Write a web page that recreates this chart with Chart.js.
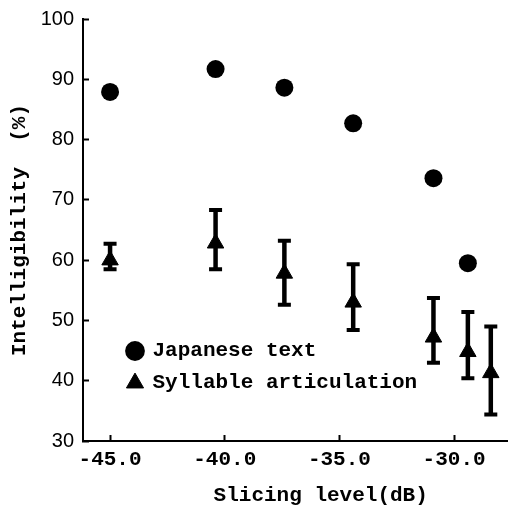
<!DOCTYPE html>
<html><head><meta charset="utf-8">
<script src="https://cdn.jsdelivr.net/npm/chart.js@4"></script>
<style>html,body{margin:0;padding:0;background:#fff;} canvas{display:block;}</style>
</head><body>
<canvas id="c" width="508" height="509"></canvas>
<script>
// ---- data ----
const slicingLevelJapanese = [-45.0, -40.4, -37.4, -34.4, -30.9, -29.4];
const japaneseText = [87.9, 91.7, 88.6, 82.7, 73.6, 59.5];
const slicingLevelSyllable = [-45.0, -40.4, -37.4, -34.4, -30.9, -29.4, -28.4];
const syllableArticulation = [60.0, 62.8, 57.8, 53.0, 47.2, 44.8, 41.3];
const syllableLow = [58.5, 58.5, 52.6, 48.4, 43.0, 40.4, 34.4];
const syllableHigh = [62.7, 68.3, 63.2, 59.3, 53.7, 51.4, 49.0];
const xTickValues = [-45, -40, -35, -30];
const xTickLabels = ['-45.0', '-40.0', '-35.0', '-30.0'];
const yTickValues = [30, 40, 50, 60, 70, 80, 90, 100];
const yTickLabels = ['30', '40', '50', '60', '70', '80', '90', '100'];
const seriesNames = ['Japanese text', 'Syllable articulation'];
const xTitle = '    Slicing level(dB)';
const yTitle = 'Intelligibility  (%)';

const MONO = '"Liberation Mono", "DejaVu Sans Mono", monospace';

const errorBars = {
  id: 'errorBars',
  afterDatasetsDraw(chart) {
    const ctx = chart.ctx, xs = chart.scales.x, ys = chart.scales.y;
    ctx.save();
    ctx.strokeStyle = '#000';
    ctx.lineCap = 'butt';
    slicingLevelSyllable.forEach((xv, i) => {
      const px = xs.getPixelForValue(xv);
      const top = ys.getPixelForValue(syllableHigh[i]);
      const bot = ys.getPixelForValue(syllableLow[i]);
      ctx.lineWidth = 4.5;
      ctx.beginPath(); ctx.moveTo(px, top); ctx.lineTo(px, bot); ctx.stroke();
      ctx.lineWidth = 4;
      ctx.beginPath();
      ctx.moveTo(px - 6.5, top); ctx.lineTo(px + 6.5, top);
      ctx.moveTo(px - 6.5, bot); ctx.lineTo(px + 6.5, bot);
      ctx.stroke();
    });
    ctx.restore();
  }
};

const legendPlacer = {
  id: 'legendPlacer',
  afterLayout(chart) {
    const lg = chart.legend;
    if (!lg) return;
    lg.left = 117; lg.top = 329.5; lg.right = 500; lg.bottom = 440;
    lg.width = lg.right - lg.left; lg.height = lg.bottom - lg.top;
  }
};

new Chart(document.getElementById('c'), {
  type: 'scatter',
  data: {
    datasets: [
      {
        label: seriesNames[0],
        data: slicingLevelJapanese.map((x, i) => ({x, y: japaneseText[i]})),
        pointStyle: 'circle', pointRadius: 9,
        backgroundColor: '#000', borderColor: '#000', borderWidth: 0
      },
      {
        label: seriesNames[1],
        data: slicingLevelSyllable.map((x, i) => ({x, y: syllableArticulation[i]})),
        pointStyle: 'triangle', pointRadius: 9.5,
        backgroundColor: '#000', borderColor: '#000', borderWidth: 1
      }
    ]
  },
  options: {
    responsive: false,
    devicePixelRatio: 1,
    animation: false,
    events: [],
    layout: { autoPadding: false, padding: { left: 0, right: 0, top: 19, bottom: 0 } },
    plugins: {
      tooltip: { enabled: false },
      legend: {
        position: 'chartArea',
        align: 'start',
        labels: {
          usePointStyle: true,
          boxWidth: 14, boxHeight: 14,
          padding: 11,
          color: '#000',
          font: { family: MONO, size: 21, weight: 'bold' }
        }
      }
    },
    scales: {
      x: {
        type: 'linear',
        min: -46.18, max: -27.65,
        afterFit: s => { s.height = 68; s.paddingLeft = 0; s.paddingRight = 0; },
        afterBuildTicks: s => { s.ticks = xTickValues.map(v => ({value: v})); },
        ticks: {
          padding: 12,
          color: '#000',
          font: { family: MONO, size: 21, weight: 'bold' },
          callback: (v) => xTickLabels[xTickValues.indexOf(v)] ?? ''
        },
        grid: { display: true, drawOnChartArea: false, drawTicks: true, tickLength: -6, tickColor: '#000', tickWidth: 2 },
        border: { display: true, color: '#000', width: 2 },
        title: { display: true, text: xTitle, color: '#000', padding: { top: 0, bottom: 1 },
          font: { family: MONO, size: 21, weight: 'bold' } }
      },
      y: {
        type: 'linear',
        min: 30, max: 100,
        afterFit: s => { s.width = 83; s.paddingTop = 0; s.paddingBottom = 0; },
        afterBuildTicks: s => { s.ticks = yTickValues.map(v => ({value: v})); },
        ticks: {
          padding: 15,
          color: '#000',
          font: { family: '"Liberation Sans", Arial, sans-serif', size: 20 },
          callback: (v) => yTickLabels[yTickValues.indexOf(v)] ?? ''
        },
        grid: { display: true, drawOnChartArea: false, drawTicks: true, tickLength: -6, tickColor: '#000', tickWidth: 2 },
        border: { display: true, color: '#000', width: 2 },
        title: { display: true, text: yTitle, color: '#000', padding: { top: 7, bottom: 0 },
          font: { family: MONO, size: 21, weight: 'bold' } }
      }
    }
  },
  plugins: [errorBars, legendPlacer]
});
</script>
</body></html>
